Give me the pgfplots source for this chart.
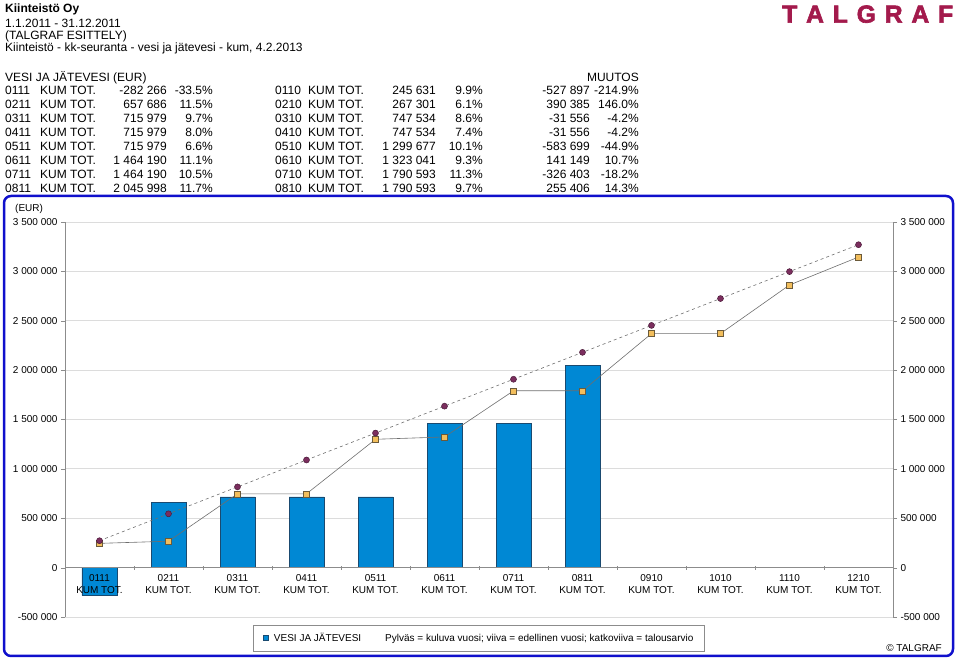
\documentclass[border=0pt]{standalone}
\usepackage{pgfplots}
\pgfplotsset{compat=1.18}
\usepackage{fontspec}
\setmainfont{Liberation Sans}
\newfontfamily\logofont[FakeBold=2.5]{Liberation Sans Bold}
\definecolor{barblue}{HTML}{0088D4}
\definecolor{bardark}{HTML}{1A4A70}
\definecolor{circfill}{HTML}{7B2E5E}
\definecolor{circdraw}{HTML}{4A1A38}
\definecolor{sqfill}{HTML}{F2BE5C}
\definecolor{sqdraw}{HTML}{6B5A3A}
\definecolor{linegray}{HTML}{6E6E6E}
\definecolor{gridgray}{HTML}{DCDCDC}
\definecolor{axgray}{HTML}{8C8C8C}
\definecolor{frameblue}{HTML}{1010CC}
\definecolor{logored}{HTML}{A31A4C}
\newcommand\tf{\fontsize{12}{14}\selectfont}
\newcommand\row[9]{%
  \node[anchor=base west,inner sep=0] at (5pt,#1pt) {\tf #2};
  \node[anchor=base west,inner sep=0] at (40pt,#1pt) {\tf KUM TOT.};
  \node[anchor=base east,inner sep=0] at (167pt,#1pt) {\tf #3};
  \node[anchor=base east,inner sep=0] at (213pt,#1pt) {\tf #4};
  \node[anchor=base west,inner sep=0] at (275pt,#1pt) {\tf #5};
  \node[anchor=base west,inner sep=0] at (308pt,#1pt) {\tf KUM TOT.};
  \node[anchor=base east,inner sep=0] at (436pt,#1pt) {\tf #6};
  \node[anchor=base east,inner sep=0] at (483pt,#1pt) {\tf #7};
  \node[anchor=base east,inner sep=0] at (590pt,#1pt) {\tf #8};
  \node[anchor=base east,inner sep=0] at (639pt,#1pt) {\tf #9};
}
\begin{document}
\begin{tikzpicture}
\useasboundingbox (0,0) rectangle (959pt,660pt);
% header
\node[anchor=base west,inner sep=0] at (5pt,647.7pt) {\tf\bfseries Kiinteistö Oy};
\node[anchor=base west,inner sep=0] at (5pt,632.7pt) {\tf 1.1.2011 - 31.12.2011};
\node[anchor=base west,inner sep=0] at (5pt,620.7pt) {\tf (TALGRAF ESITTELY)};
\node[anchor=base west,inner sep=0] at (5pt,608.7pt) {\tf Kiinteistö - kk-seuranta - vesi ja jätevesi - kum, 4.2.2013};
\node[anchor=base west,inner sep=0] at (5pt,578.7pt) {\tf VESI JA JÄTEVESI (EUR)};
\node[anchor=base east,inner sep=0] at (639pt,578.7pt) {\tf MUUTOS};
\row{565.7}{0111}{-282 266}{-33.5\%}{0110}{245 631}{9.9\%}{-527 897}{-214.9\%}
\row{551.7}{0211}{657 686}{11.5\%}{0210}{267 301}{6.1\%}{390 385}{146.0\%}
\row{537.7}{0311}{715 979}{9.7\%}{0310}{747 534}{8.6\%}{-31 556}{-4.2\%}
\row{523.7}{0411}{715 979}{8.0\%}{0410}{747 534}{7.4\%}{-31 556}{-4.2\%}
\row{509.7}{0511}{715 979}{6.6\%}{0510}{1 299 677}{10.1\%}{-583 699}{-44.9\%}
\row{495.7}{0611}{1 464 190}{11.1\%}{0610}{1 323 041}{9.3\%}{141 149}{10.7\%}
\row{481.7}{0711}{1 464 190}{10.5\%}{0710}{1 790 593}{11.3\%}{-326 403}{-18.2\%}
\row{467.7}{0811}{2 045 998}{11.7\%}{0810}{1 790 593}{9.7\%}{255 406}{14.3\%}
% logo
\node[anchor=base west,inner sep=0] at (782pt,637.3pt) {\color{logored}\fontsize{24.7}{26}\logofont\makebox[171pt][s]{T\hfill A\hfill L\hfill G\hfill R\hfill A\hfill F}};
% frame
\draw[line width=2.5pt, rounded corners=7pt, frameblue] (4pt,4pt) rectangle (953pt,464pt);
\node[anchor=base west,inner sep=0] at (15pt,448.4pt) {\fontsize{10}{12}\selectfont (EUR)};
\node[anchor=base east,inner sep=0] at (942pt,8.4pt) {\fontsize{10}{12}\selectfont \textcopyright\ TALGRAF};
\begin{axis}[
  at={(65pt,43pt)}, anchor=south west, scale only axis,
  width=828pt, height=395pt,
  xmin=-0.5, xmax=11.5, ymin=-500000, ymax=3500000,
  axis x line=none, axis y line*=left,
  axis line style={-, draw=axgray},
  scaled y ticks=false,
  ytick={-500000,0,500000,1000000,1500000,2000000,2500000,3000000,3500000},
  yticklabels={-500 000,0,500 000,1 000 000,1 500 000,2 000 000,2 500 000,3 000 000,3 500 000},
  ymajorgrids, grid style={gridgray, line width=0.8pt},
  tick style={axgray}, major tick length=4pt, tick align=outside,
  tick label style={font=\fontsize{10}{12}\selectfont},
  legend style={at={(0.5,0)}, anchor=north, yshift=-8pt, draw=axgray, fill=white,
    font=\fontsize{10}{12}\selectfont, inner xsep=9pt, inner ysep=6pt},
  legend cell align=left,
]
\addplot[ybar, bar width=35pt, fill=barblue, draw=bardark, line width=0.5pt,
  legend image code/.code={\draw[fill=barblue,draw=bardark,line width=0.4pt] (0pt,-2.5pt) rectangle (5pt,2.5pt);}]
  coordinates {(0,-282266) (1,657686) (2,715979) (3,715979) (4,715979) (5,1464190) (6,1464190) (7,2045998)};
\addlegendentry{\hspace{4pt}VESI JA JÄTEVESI\hspace{24pt}Pylväs = kuluva vuosi; viiva = edellinen vuosi; katkoviiva = talousarvio}
\addplot[forget plot, linegray, line width=0.6pt, mark=square*, mark size=3pt,
  mark options={solid, fill=sqfill, draw=sqdraw, line width=0.5pt}]
  coordinates {(0,245631) (1,267301) (2,747534) (3,747534) (4,1299677) (5,1323041) (6,1790593) (7,1790593) (8,2370000) (9,2370000) (10,2862000) (11,3145000)};
\addplot[forget plot, linegray, line width=0.6pt, dash pattern=on 3pt off 3pt, mark=*, mark size=3pt,
  mark options={solid, fill=circfill, draw=circdraw, line width=0.5pt}]
  coordinates {(0,272500) (1,545000) (2,817500) (3,1090000) (4,1362500) (5,1635000) (6,1907500) (7,2180000) (8,2452500) (9,2725000) (10,2997500) (11,3270000)};
\end{axis}
\begin{axis}[
  at={(65pt,43pt)}, anchor=south west, scale only axis,
  width=828pt, height=395pt,
  xmin=-0.5, xmax=11.5, ymin=-500000, ymax=3500000,
  axis x line*=middle, axis y line*=right,
  axis line style={-, draw=axgray},
  scaled y ticks=false,
  ytick={-500000,0,500000,1000000,1500000,2000000,2500000,3000000,3500000},
  yticklabels={-500 000,0,500 000,1 000 000,1 500 000,2 000 000,2 500 000,3 000 000,3 500 000},
  xtick={-0.5,0.5,...,11.5}, xticklabels={},
  extra x ticks={0,1,2,3,4,5,6,7,8,9,10,11},
  extra x tick labels={0111\\KUM TOT.,0211\\KUM TOT.,0311\\KUM TOT.,0411\\KUM TOT.,0511\\KUM TOT.,0611\\KUM TOT.,0711\\KUM TOT.,0811\\KUM TOT.,0910\\KUM TOT.,1010\\KUM TOT.,1110\\KUM TOT.,1210\\KUM TOT.},
  extra x tick style={major tick length=0pt, tick label style={yshift=-3pt}},
  tick style={axgray}, major tick length=4pt, tick align=outside,
  xtick align=center,
  tick label style={font=\fontsize{10}{12}\selectfont, align=center},
]
\end{axis}
\end{tikzpicture}
\end{document}
